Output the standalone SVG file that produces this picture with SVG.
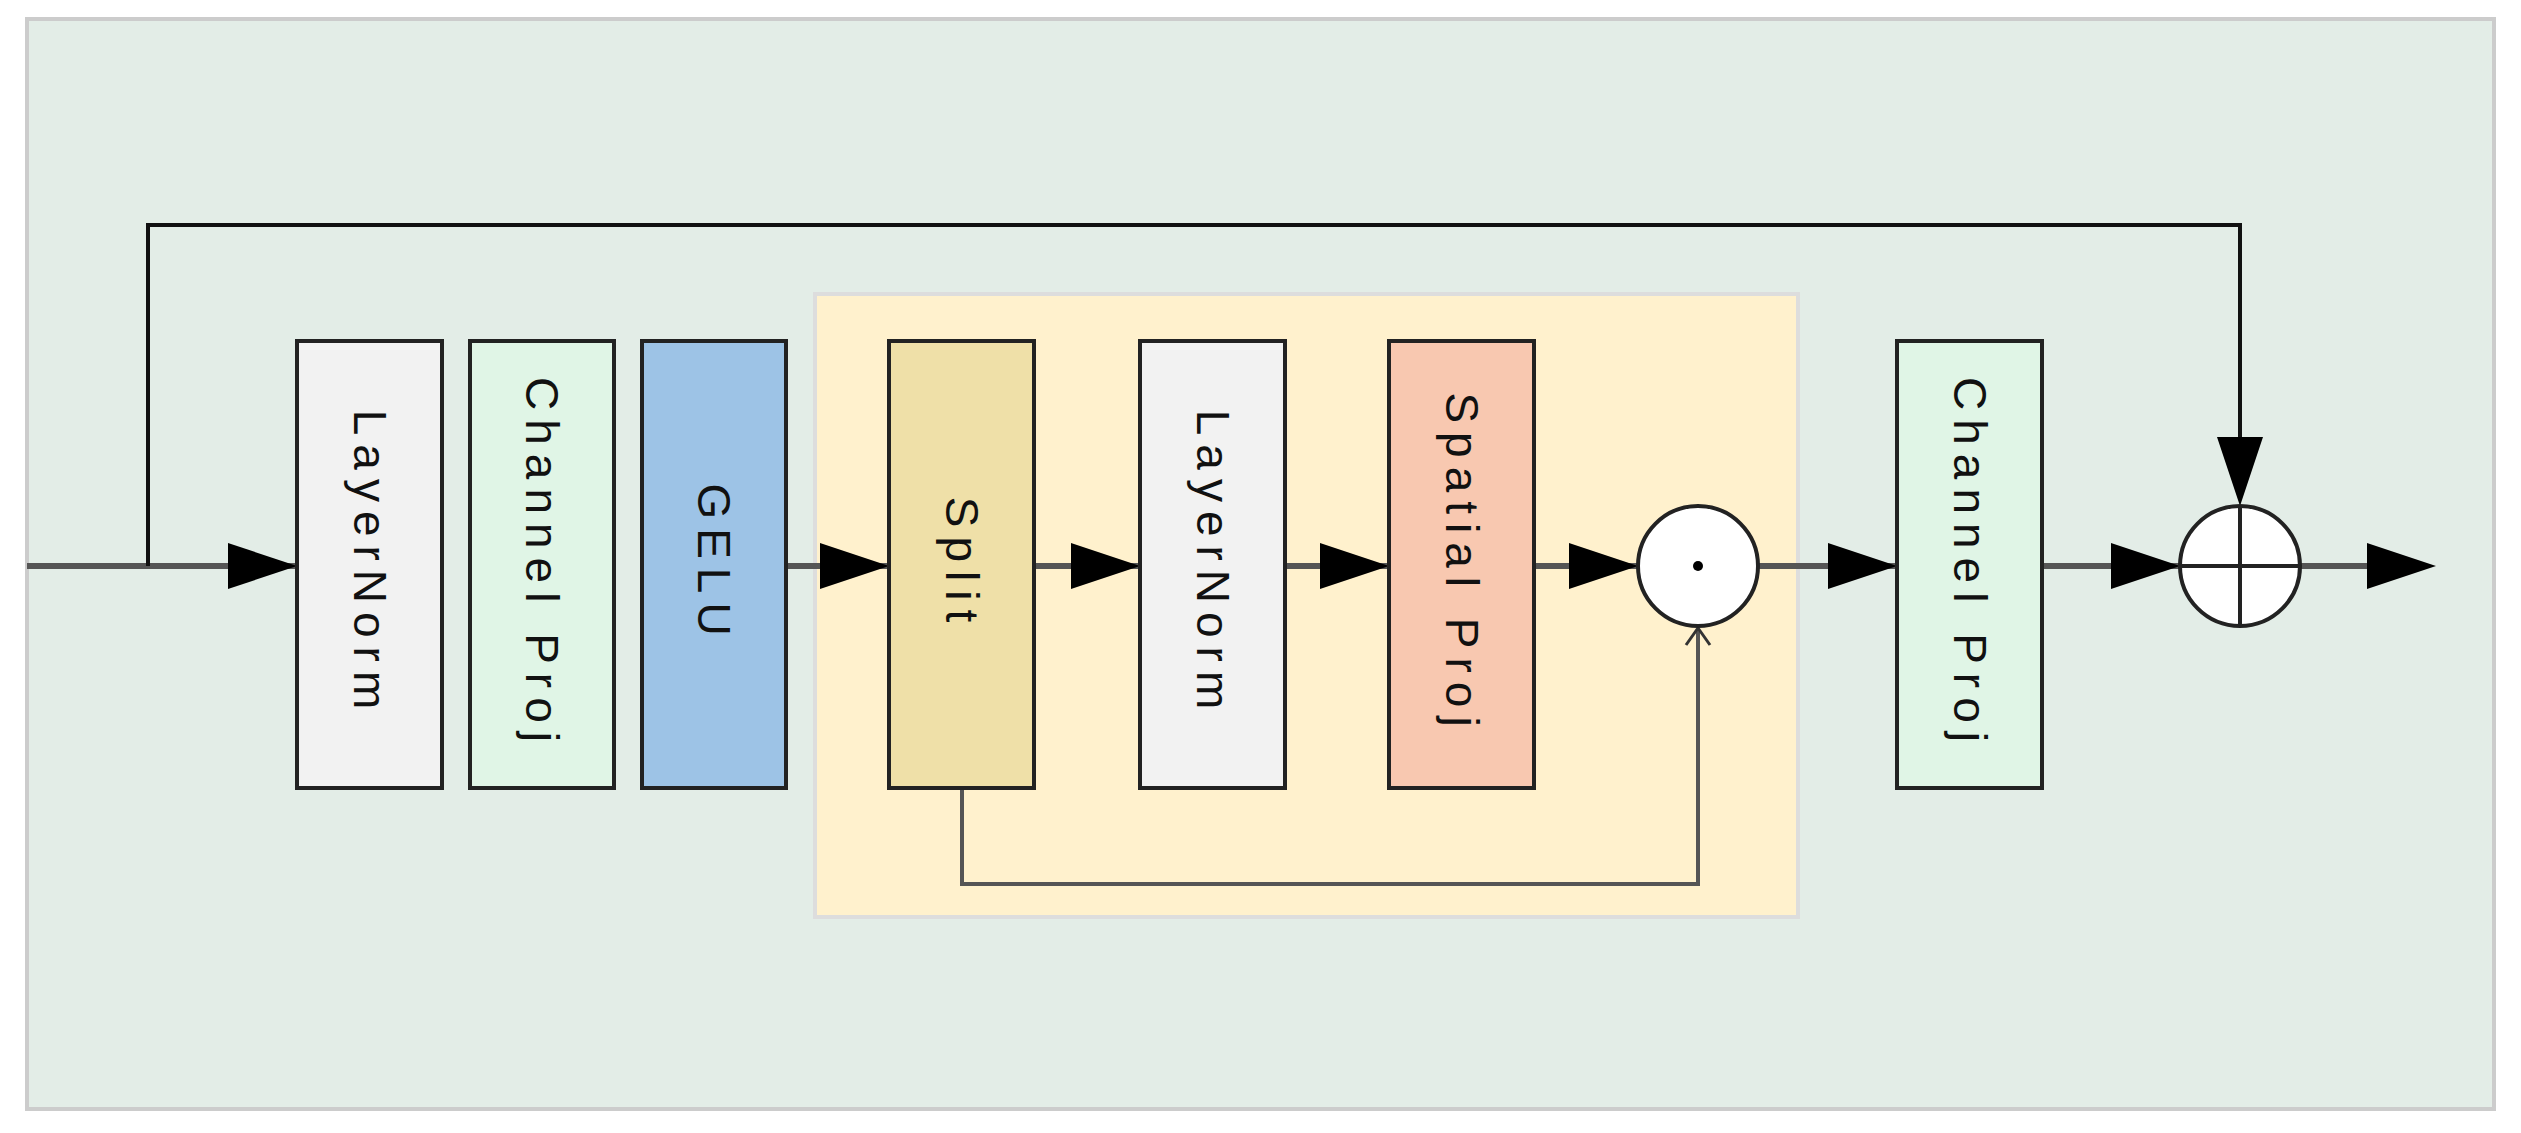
<svg xmlns="http://www.w3.org/2000/svg" width="2521" height="1133" viewBox="0 0 2521 1133">
<style>
.box{stroke:#222;stroke-width:4}
.lbl{font-family:"Liberation Sans",Arial,sans-serif;font-size:46px;letter-spacing:9px;fill:#111;text-anchor:middle;dominant-baseline:central}
.main{stroke:#555;stroke-width:6;fill:none}
.thin{stroke:#111;stroke-width:4;fill:none}
.ah{fill:#000}
</style>
<rect x="27" y="19" width="2467" height="1090" fill="#e3ede7" stroke="#ccc" stroke-width="4"/>
<rect x="815" y="294" width="983" height="623" fill="#fff1cd" stroke="#ddd" stroke-width="4"/>
<g id="connectors">
<line class="main" x1="27" y1="566" x2="297" y2="566"/>
<line class="main" x1="786" y1="566" x2="889" y2="566"/>
<line class="main" x1="1034" y1="566" x2="1140" y2="566"/>
<line class="main" x1="1285" y1="566" x2="1389" y2="566"/>
<line class="main" x1="1534" y1="566" x2="1638" y2="566"/>
<line class="main" x1="1758" y1="566" x2="1897" y2="566"/>
<line class="main" x1="2042" y1="566" x2="2180" y2="566"/>
<line class="main" x1="2300" y1="566" x2="2420" y2="566"/>
<polyline class="thin" points="148,566 148,225 2240,225 2240,470"/>
<polyline class="main" style="stroke-width:4" points="962,788 962,884 1698,884 1698,630"/>
<polyline points="1686,645 1698,628 1710,645" fill="none" stroke="#333" stroke-width="3"/>
<polygon class="ah" points="228,543 297,566 228,589"/>
<polygon class="ah" points="820,543 889,566 820,589"/>
<polygon class="ah" points="1071,543 1140,566 1071,589"/>
<polygon class="ah" points="1320,543 1389,566 1320,589"/>
<polygon class="ah" points="1569,543 1638,566 1569,589"/>
<polygon class="ah" points="1828,543 1897,566 1828,589"/>
<polygon class="ah" points="2111,543 2180,566 2111,589"/>
<polygon class="ah" points="2367,543 2436,566 2367,589"/>
<polygon class="ah" points="2217,437 2240,506 2263,437"/>
</g>
<g id="ln1"><rect class="box" x="297" y="341" width="145" height="447" fill="#f2f2f2"/><text class="lbl" transform="translate(369.5,564) rotate(90)">LayerNorm</text></g>
<g id="cp1"><rect class="box" x="470" y="341" width="144" height="447" fill="#e0f5e6"/><text class="lbl" transform="translate(542,564) rotate(90)">Channel Proj</text></g>
<g id="gelu"><rect class="box" x="642" y="341" width="144" height="447" fill="#9dc3e6"/><text class="lbl" transform="translate(714,564) rotate(90)">GELU</text></g>
<g id="split"><rect class="box" x="889" y="341" width="145" height="447" fill="#efe0a8"/><text class="lbl" transform="translate(961.5,564) rotate(90)">Split</text></g>
<g id="ln2"><rect class="box" x="1140" y="341" width="145" height="447" fill="#f2f2f2"/><text class="lbl" transform="translate(1212.5,564) rotate(90)">LayerNorm</text></g>
<g id="sp"><rect class="box" x="1389" y="341" width="145" height="447" fill="#f8c8b0"/><text class="lbl" transform="translate(1461.5,564) rotate(90)">Spatial Proj</text></g>
<g id="cp2"><rect class="box" x="1897" y="341" width="145" height="447" fill="#e0f5e6"/><text class="lbl" transform="translate(1969.5,564) rotate(90)">Channel Proj</text></g>
<g id="odot"><circle cx="1698" cy="566" r="60" fill="#fff" stroke="#222" stroke-width="4"/><circle cx="1698" cy="566" r="5" fill="#000"/></g>
<g id="oplus"><circle cx="2240" cy="566" r="60" fill="#fff" stroke="#222" stroke-width="4"/><line x1="2180" y1="566" x2="2300" y2="566" stroke="#222" stroke-width="4"/><line x1="2240" y1="506" x2="2240" y2="626" stroke="#222" stroke-width="4"/></g>
</svg>
